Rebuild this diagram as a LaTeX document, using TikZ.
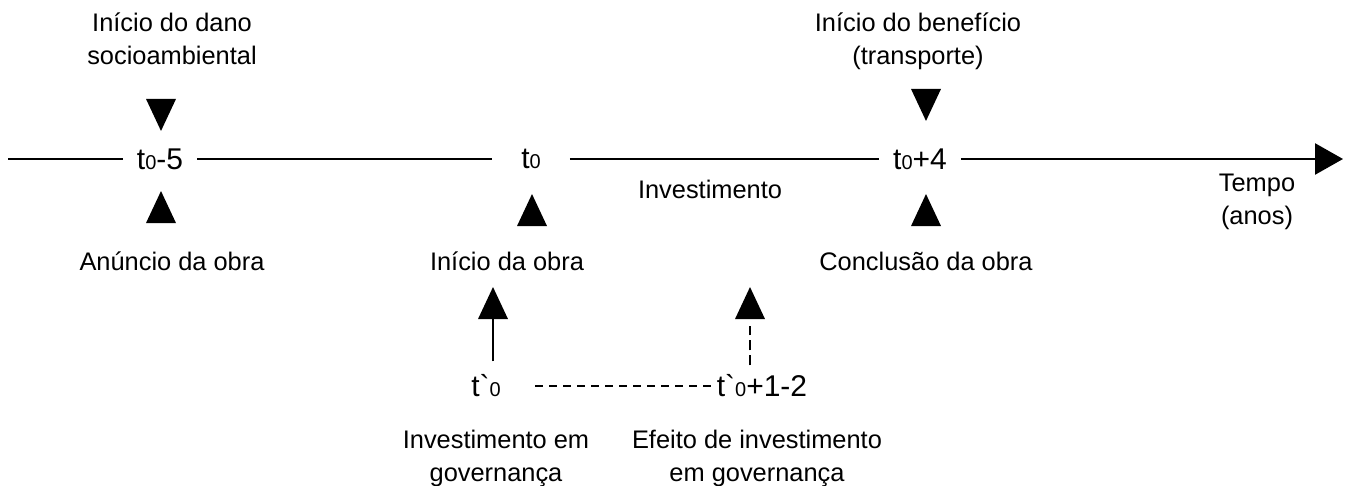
\documentclass[tikz,border=0pt]{standalone}
\usepackage{fontspec}
\setmainfont{Liberation Sans}
\usetikzlibrary{positioning, shapes.geometric, arrows.meta}

\newcommand{\tzero}{t{\fontsize{10}{10}\selectfont 0}}
\newcommand{\tlinha}{t\textasciigrave{\fontsize{10}{10}\selectfont 0}}

\begin{document}
\begin{tikzpicture}[x=0.5pt, y=-0.5pt, every node/.style={font=\fontsize{12.7}{16.5}\selectfont}]
  % Styles
  \tikzset{
    txt/.style={align=center, inner sep=0pt},
    timemark/.style={font=\fontsize{15}{17}\selectfont, inner sep=0pt},
    tri/.style={isosceles triangle, isosceles triangle stretches, fill=black, inner sep=0pt, minimum width=15pt, minimum height=16pt},
    tridown/.style={tri, shape border rotate=270, anchor=apex},
    triup/.style={tri, shape border rotate=90, anchor=apex},
    axis/.style={line width=1.3pt},
    flow/.style={line width=1.3pt}
  }
  \useasboundingbox (0,0) rectangle (1349,486);

  % Time axis
  \coordinate (start) at (8,159);
  \coordinate (end) at (1343,159);
  \node[timemark, minimum width=37pt] (m1) at (160,159) {\tzero-5};
  \node[timemark, minimum width=38.5pt] (m2) at (531,159) {\tzero};
  \node[timemark, minimum width=40.5pt] (m3) at (920,159) {\tzero+4};

  \draw[axis] (start) -- (m1);
  \draw[axis] (m1) -- (m2);
  \draw[axis] (m2) -- (m3);
  \draw[axis, -{Triangle[length=14pt, width=15.5pt]}] (m3) -- (end);

  % Markers
  \node[tridown] (d1) at (161,132) {};
  \node[triup] (u1) at (161,190) {};
  \node[triup] (u2) at (532,193) {};
  \node[tridown] (d3) at (926,122) {};
  \node[triup] (u3) at (926,193) {};

  % Events
  \node[txt, anchor=north] (dano) at (172,12) {Início do dano\\socioambiental};
  \node[txt, anchor=north] (benef) at (918,12) {Início do benefício\\(transporte)};
  \node[txt] (anuncio) at (172,261) {Anúncio da obra};
  \node[txt] (inicio) at (507,261) {Início da obra};
  \node[txt] (conclusao) at (926,261) {Conclusão da obra};
  \node[txt] (invest) at (710,189) {Investimento};
  \node[txt, anchor=north] (tempo) at (1257,174) {Tempo\\(anos)};

  % Governance
  \node[triup] (p1) at (493,286) {};
  \node[triup] (p2) at (750,286) {};
  \node[timemark] (tl0) at (486,386) {\tlinha};
  \node[timemark] (tl1) at (762,386) {\tlinha+1-2};
  \node[txt, anchor=north] (govinv) at (496,430) {Investimento em\\governança};
  \node[txt, anchor=north] (goveff) at (757,430) {Efeito de investimento\\em governança};

  \draw[flow, shorten <=6.5pt] (p1.lower side |- tl0.north) -- (p1.lower side);
  \draw[flow, dash pattern=on 5pt off 2.5pt, shorten <=4.5pt, shorten >=3.5pt] (p2.lower side |- tl1.north) -- (p2.lower side);
  \draw[flow, dash pattern=on 4pt off 3pt, shorten <=17pt, shorten >=1pt] (tl0.east) -- (tl1.west);

\end{tikzpicture}
\end{document}
